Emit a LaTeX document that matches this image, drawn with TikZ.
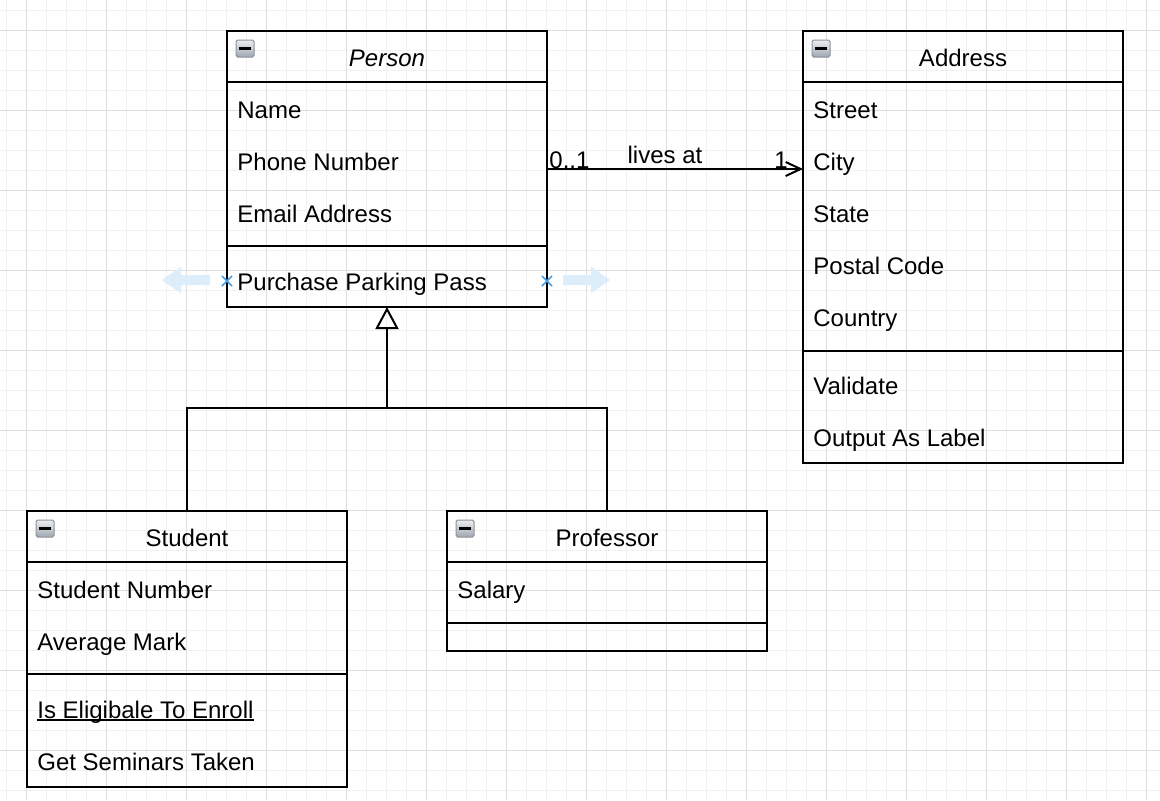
\documentclass[tikz,border=0pt]{standalone}
\usepackage{fontspec}
\setmainfont{Liberation Sans}
\usetikzlibrary{arrows.meta,calc}
\definecolor{gridminor}{RGB}{241,241,241}
\definecolor{gridmajor}{RGB}{222,222,222}
\definecolor{hblue}{RGB}{222,237,250}
\definecolor{hmark}{RGB}{70,160,228}
\definecolor{icontop}{RGB}{236,239,243}
\definecolor{iconbot}{RGB}{158,166,176}
\definecolor{iconline}{RGB}{140,146,154}
\newcommand{\umlminus}[1]{%
  \draw[iconline, top color=icontop, bottom color=iconbot, rounded corners=0.8pt, line width=0.5pt]
    ($(#1.north west)+(9,9)$) rectangle ($(#1.north west)+(27,26)$);
  \draw[black, line width=1.3pt] ($(#1.north west)+(12,17.5)$) -- ($(#1.north west)+(24,17.5)$);
}
\begin{document}
\begin{tikzpicture}[x=0.5pt,y=-0.5pt,
  umlbox/.style={draw=black,line width=1pt,rectangle,inner sep=0pt,outer sep=0pt,anchor=north west,minimum width=160pt},
  row/.style={anchor=base west,inner sep=0pt,font=\fontsize{12}{14}\selectfont},
  umltitle/.style={anchor=base,inner sep=0pt,font=\fontsize{12}{14}\selectfont},
  sepline/.style={line width=1pt},
  conn/.style={line width=1pt,draw=black},
  handle/.style={fill=hblue,draw=none},
  hx/.style={draw=hmark,line width=0.8pt}
]
\useasboundingbox (0,0) rectangle (1160,800);
\fill[white] (0,0) rectangle (1160,800);
% grid
\foreach \i in {0,...,57} \draw[gridminor,line width=0.6pt] ({6.5+20*\i},0) -- ({6.5+20*\i},800);
\foreach \j in {0,...,39} \draw[gridminor,line width=0.6pt] (0,{10.5+20*\j}) -- (1160,{10.5+20*\j});
\foreach \i in {0,...,14} \draw[gridmajor,line width=0.5pt] ({26.5+80*\i},0) -- ({26.5+80*\i},800);
\foreach \j in {0,...,9} \draw[gridmajor,line width=0.5pt] (0,{30.5+80*\j}) -- (1160,{30.5+80*\j});

% selection handles
\fill[handle] (162,280) -- (181,266.7) -- (181,275) -- (210,275) -- (210,285) -- (181,285) -- (181,293.3) -- cycle;
\fill[handle] (563,275) -- (591,275) -- (591,266.7) -- (610,280) -- (591,293.3) -- (591,285) -- (563,285) -- cycle;

% boxes
\node[umlbox,minimum height=138pt] (person) at (227,31) {};
\node[umlbox,minimum height=216pt] (address) at (803,31) {};
\node[umlbox,minimum height=138pt] (student) at (27,511) {};
\node[umlbox,minimum height=70pt] (professor) at (447,511) {};

% separators
\draw[sepline] ($(person.north west)+(0,51)$) -- ($(person.north east)+(0,51)$);
\draw[sepline] ($(person.north west)+(0,215)$) -- ($(person.north east)+(0,215)$);
\draw[sepline] ($(address.north west)+(0,51)$) -- ($(address.north east)+(0,51)$);
\draw[sepline] ($(address.north west)+(0,320)$) -- ($(address.north east)+(0,320)$);
\draw[sepline] ($(student.north west)+(0,51)$) -- ($(student.north east)+(0,51)$);
\draw[sepline] ($(student.north west)+(0,163)$) -- ($(student.north east)+(0,163)$);
\draw[sepline] ($(professor.north west)+(0,51)$) -- ($(professor.north east)+(0,51)$);
\draw[sepline] ($(professor.north west)+(0,112)$) -- ($(professor.north east)+(0,112)$);

% icons
\umlminus{person}
\umlminus{address}
\umlminus{student}
\umlminus{professor}

% titles
\node[umltitle] (persontitle) at (387,66) {\itshape Person};
\node[umltitle] (addresstitle) at (963,66) {Address};
\node[umltitle] (studenttitle) at (187,546) {Student};
\node[umltitle] (professortitle) at (607,546) {Professor};

% person rows
\node[row] (pname) at (237,118) {Name};
\node[row] (pphone) at (237,170) {Phone Number};
\node[row] (pemail) at (237,222) {Email Address};
\node[row] (ppark) at (237,290) {Purchase Parking Pass};

% address rows
\node[row] (astreet) at (813,118) {Street};
\node[row] (acity) at (813,170) {City};
\node[row] (astate) at (813,222) {State};
\node[row] (apostal) at (813,274) {Postal Code};
\node[row] (acountry) at (813,326) {Country};
\node[row] (avalid) at (813,394) {Validate};
\node[row] (alabel) at (813,446) {Output As Label};

% student rows
\node[row] (snum) at (37,598) {Student Number};
\node[row] (smark) at (37,650) {Average Mark};
\node[row] (selig) at (37,718) {Is Eligibale To Enroll};
\node[row] (ssem) at (37,770) {Get Seminars Taken};
\draw[line width=0.75pt] ([yshift=-1pt]selig.base west) -- ([yshift=-1pt]selig.base east);

% professor rows
\node[row] (psal) at (457,598) {Salary};

% handle marks
\coordinate (hl) at (227,281);
\coordinate (hr) at (547,281);
\draw[hx] ($(hl)+(-5,-5)$) -- ($(hl)+(5,5)$);
\draw[hx] ($(hl)+(5,-5)$) -- ($(hl)+(-5,5)$);
\draw[hx] ($(hr)+(-5,-5)$) -- ($(hr)+(5,5)$);
\draw[hx] ($(hr)+(5,-5)$) -- ($(hr)+(-5,5)$);

% inheritance
\coordinate (hub) at (387,408);
\draw[conn] (student.north) |- (hub) -| (professor.north);
\draw[conn,-{Triangle[open,length=11pt,width=11.5pt]}] (hub) -- (person.south);

% association
\draw[conn,-{Straight Barb[length=7.5pt,width=7pt]}] (person.east) -- (person.east -| address.west);
\node[row] (mult1) at (549,168) {0..1};
\node[umltitle] (livesat) at (665,163) {lives at};
\node[row,anchor=base east] (mult2) at (788,168) {1};
\end{tikzpicture}
\end{document}
